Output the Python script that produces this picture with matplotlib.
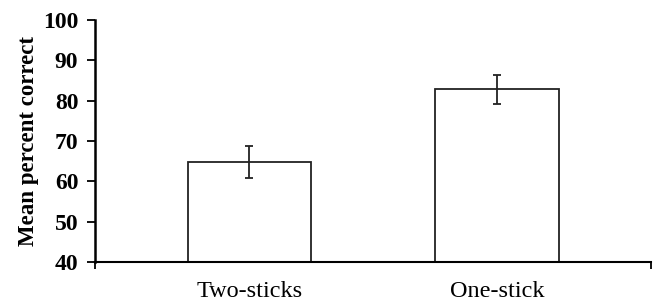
import matplotlib.pyplot as plt

# data
conditions = ['Two-sticks', 'One-stick']
mean_correct = [64.8, 82.8]
sem = [4.0, 3.7]

plt.rcParams['font.family'] = ['Liberation Serif', 'DejaVu Serif']

fig = plt.figure(figsize=(6.55, 3.04), dpi=100)
ax = fig.add_axes([0.145, 0.138, 0.849, 0.796])

x = range(len(conditions))
ax.bar(x, [m - 40 for m in mean_correct], bottom=40, width=0.5,
       color='white', edgecolor='#222222', linewidth=1.3, zorder=2)
ax.errorbar(x, mean_correct, yerr=sem, fmt='none', ecolor='#222222',
            elinewidth=1.3, capsize=3, capthick=1.3, zorder=3)

ax.set_xlim(-0.624, 1.622)
ax.set_ylim(40, 100)
ax.set_yticks(range(40, 101, 10))
ax.set_yticklabels([str(v) for v in range(40, 101, 10)], fontweight='bold', fontsize=17)

# ticks at the axis ends, labels centred under the bars
ax.set_xticks([-0.624, 1.622])
ax.set_xticklabels(['', ''])
ax.set_xticks(list(x), minor=True)
ax.set_xticklabels(conditions, minor=True, fontsize=17.5)
ax.tick_params(axis='x', which='minor', length=0, pad=14)
ax.tick_params(axis='x', which='major', length=5, width=1.3, direction='out')
ax.tick_params(axis='y', length=6, width=1.3, direction='out', pad=6)

ax.set_ylabel('Mean percent correct', fontweight='bold', fontsize=16.5, labelpad=3)

for s in ['top', 'right']:
    ax.spines[s].set_visible(False)
ax.spines['left'].set_linewidth(1.8)
ax.spines['bottom'].set_linewidth(1.5)

fig.savefig('out.png', dpi=100)
